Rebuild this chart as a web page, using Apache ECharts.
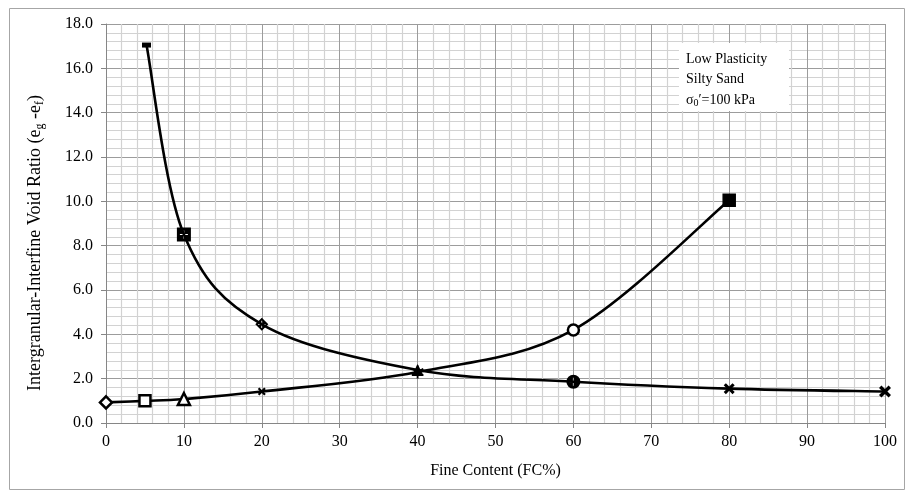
<!DOCTYPE html>
<html>
<head>
<meta charset="utf-8">
<script src="https://cdn.jsdelivr.net/npm/echarts@6/dist/echarts.min.js"></script>
<style>
  html, body { margin: 0; padding: 0; background: #fff; }
  #chart { width: 913px; height: 497px; }
</style>
</head>
<body>
<div id="chart"></div>
<script>
// Fine content (%) and intergranular-interfine void ratio, two branches
const fineContentA = [5.2, 10, 20, 40, 60, 80, 100];
const voidRatioA   = [17.05, 8.5, 4.45, 2.39, 1.86, 1.55, 1.42];

const fineContentB = [0, 5, 10, 20, 40, 60, 80];
const voidRatioB   = [0.93, 1.0, 1.08, 1.42, 2.3, 4.2, 10.05];

const xTicks = [0, 10, 20, 30, 40, 50, 60, 70, 80, 90, 100];
const yTicks = [0, 2, 4, 6, 8, 10, 12, 14, 16, 18];

const noteLines = ['Low Plasticity', 'Silty Sand'];

// Marker shapes
const PLUS_HOLE = 'M6.5,3 V6.5 H3 V7.5 H6.5 V11 H7.5 V7.5 H11 V6.5 H7.5 V3 Z';
const SQUARE_PLUS = 'path://M0,0 H14 V14 H0 Z ' + PLUS_HOLE;
const CIRCLE_PLUS = 'path://M0,7 A7,7 0 1,1 14,7 A7,7 0 1,1 0,7 Z ' + PLUS_HOLE;
const DIAMOND_PLUS = 'path://M7,0 L14,7 L7,14 L0,7 Z ' + PLUS_HOLE;
const CROSS = 'path://M0,2 L2,0 L5,3 L8,0 L10,2 L7,5 L10,8 L8,10 L5,7 L2,10 L0,8 L3,5 Z';
const ASTERISK = 'path://M4.3,0 H5.7 V3.8 L9,1.9 L9.7,3.1 L6.4,5 L9.7,6.9 L9,8.1 L5.7,6.2 V10 H4.3 V6.2 L1,8.1 L0.3,6.9 L3.6,5 L0.3,3.1 L1,1.9 L4.3,3.8 Z';

const solid = { color: '#000', borderColor: '#000', borderWidth: 0 };
const hollow = { color: '#fff', borderColor: '#000', borderWidth: 2.5 };

const markersA = [
  { symbol: 'rect', size: [9, 5], style: solid },
  { symbol: SQUARE_PLUS, size: 14, style: solid },
  { symbol: DIAMOND_PLUS, size: 13, style: solid },
  { symbol: 'triangle', size: 12, style: solid },
  { symbol: CIRCLE_PLUS, size: 14, style: solid },
  { symbol: CROSS, size: 11, style: solid },
  { symbol: CROSS, size: 12, style: solid }
];
const markersB = [
  { symbol: 'diamond', size: 12, style: hollow },
  { symbol: 'rect', size: 11, style: hollow },
  { symbol: 'triangle', size: 12, style: hollow },
  { symbol: CROSS, size: 8, style: solid },
  { symbol: ASTERISK, size: 13, style: solid },
  { symbol: 'circle', size: 11, style: hollow },
  { symbol: 'rect', size: 12, style: { color: '#000', borderColor: '#000', borderWidth: 1.5 } }
];

function buildPoints(xs, ys, marks) {
  return xs.map((x, i) => ({
    value: [x, ys[i]],
    symbol: marks[i].symbol,
    symbolSize: marks[i].size,
    itemStyle: marks[i].style
  }));
}

// Smoothed curve through the data points (cardinal spline, 1/6 tangent),
// computed in pixel space from the axis scales.
function smoothCurve(xs, ys) {
  return function (params, api) {
    if (params.dataIndex !== 0) return null;
    const p = xs.map((x, i) => api.coord([x, ys[i]]));
    const n = p.length;
    let d = 'M' + p[0][0] + ',' + p[0][1];
    for (let i = 0; i < n - 1; i++) {
      const p0 = p[Math.max(i - 1, 0)];
      const p1 = p[i];
      const p2 = p[i + 1];
      const p3 = p[Math.min(i + 2, n - 1)];
      const c1x = p1[0] + (p2[0] - p0[0]) / 6;
      const c1y = p1[1] + (p2[1] - p0[1]) / 6;
      const c2x = p2[0] - (p3[0] - p1[0]) / 6;
      const c2y = p2[1] - (p3[1] - p1[1]) / 6;
      d += ' C' + c1x + ',' + c1y + ' ' + c2x + ',' + c2y + ' ' + p2[0] + ',' + p2[1];
    }
    return {
      type: 'path',
      shape: { pathData: d },
      style: { fill: 'none', stroke: '#000', lineWidth: 2.6, lineJoin: 'round' }
    };
  };
}

const serif = '"Liberation Serif", "Times New Roman", serif';
const majorGrid = '#9c9c9c';
const minorGrid = '#d2d2d2';

const chart = echarts.init(document.getElementById('chart'), null, { renderer: 'canvas' });

chart.setOption({
  animation: false,
  backgroundColor: '#fff',
  textStyle: { fontFamily: serif },
  grid: { left: 106, right: 28, top: 24, bottom: 74 },
  xAxis: {
    type: 'value',
    min: xTicks[0],
    max: xTicks[xTicks.length - 1],
    interval: xTicks[1] - xTicks[0],
    name: 'Fine Content (FC%)',
    nameLocation: 'middle',
    nameGap: 40,
    nameTextStyle: { fontFamily: serif, fontSize: 16, color: '#000' },
    axisLine: { lineStyle: { color: '#868686', width: 1 } },
    axisTick: { show: true, length: 5, lineStyle: { color: '#868686' } },
    axisLabel: { fontFamily: serif, fontSize: 16, color: '#000', margin: 11 },
    splitLine: { show: true, lineStyle: { color: majorGrid, width: 1 } },
    minorTick: { show: false, splitNumber: 5 },
    minorSplitLine: { show: true, lineStyle: { color: minorGrid, width: 1.2 } }
  },
  yAxis: {
    type: 'value',
    min: yTicks[0],
    max: yTicks[yTicks.length - 1],
    interval: yTicks[1] - yTicks[0],
    axisLine: { show: true, lineStyle: { color: '#868686', width: 1 } },
    axisTick: { show: true, length: 5, lineStyle: { color: '#868686' } },
    axisLabel: {
      fontFamily: serif, fontSize: 16, color: '#000', margin: 13,
      formatter: v => v.toFixed(1)
    },
    splitLine: { show: true, lineStyle: { color: majorGrid, width: 1 } },
    minorTick: { show: false, splitNumber: 5 },
    minorSplitLine: { show: true, lineStyle: { color: minorGrid, width: 1.2 } }
  },
  graphic: [
    {
      type: 'rect',
      silent: true,
      shape: { x: 9.5, y: 8.5, width: 895, height: 481 },
      style: { fill: 'none', stroke: '#a6a6a6', lineWidth: 1 }
    },
    {
      // y-axis title, rotated
      type: 'text',
      silent: true,
      x: 35,
      y: 243,
      rotation: Math.PI / 2,
      style: {
        text: '{n|Intergranular-Interfine Void Ratio (e}{s|g}{n| -e}{s|f}{n|)}',
        align: 'center',
        verticalAlign: 'middle',
        rich: {
          n: { font: '18px ' + serif, fill: '#000' },
          s: { font: '12px ' + serif, fill: '#000', padding: [9, 0, 0, 0] }
        }
      }
    },
    {
      type: 'rect',
      silent: true,
      z: 10,
      shape: { x: 679, y: 43, width: 110, height: 68 },
      style: { fill: '#fff', stroke: 'none' }
    },
    {
      type: 'text',
      silent: true,
      z: 11,
      left: 686,
      top: 49,
      style: {
        text: noteLines[0] + '\n' + noteLines[1] + '\n{n|σ}{s|0}{n|′=100 kPa}',
        font: '14px ' + serif,
        fill: '#000',
        lineHeight: 20.5,
        rich: {
          n: { font: '14px ' + serif, fill: '#000' },
          s: { font: '10px ' + serif, fill: '#000', padding: [7, 0, 0, 0] }
        }
      }
    }
  ],
  series: [
    {
      name: 'curve A',
      type: 'custom',
      renderItem: smoothCurve(fineContentA, voidRatioA),
      data: [[fineContentA[0], voidRatioA[0]]],
      encode: { x: 0, y: 1 },
      silent: true,
      z: 2
    },
    {
      name: 'curve B',
      type: 'custom',
      renderItem: smoothCurve(fineContentB, voidRatioB),
      data: [[fineContentB[0], voidRatioB[0]]],
      encode: { x: 0, y: 1 },
      silent: true,
      z: 2
    },
    {
      name: 'branch A',
      type: 'line',
      showAllSymbol: true,
      symbolKeepAspect: true,
      lineStyle: { width: 0, opacity: 0 },
      data: buildPoints(fineContentA, voidRatioA, markersA),
      z: 3
    },
    {
      name: 'branch B',
      type: 'line',
      showAllSymbol: true,
      symbolKeepAspect: true,
      lineStyle: { width: 0, opacity: 0 },
      data: buildPoints(fineContentB, voidRatioB, markersB),
      z: 4
    }
  ]
});
</script>
</body>
</html>
